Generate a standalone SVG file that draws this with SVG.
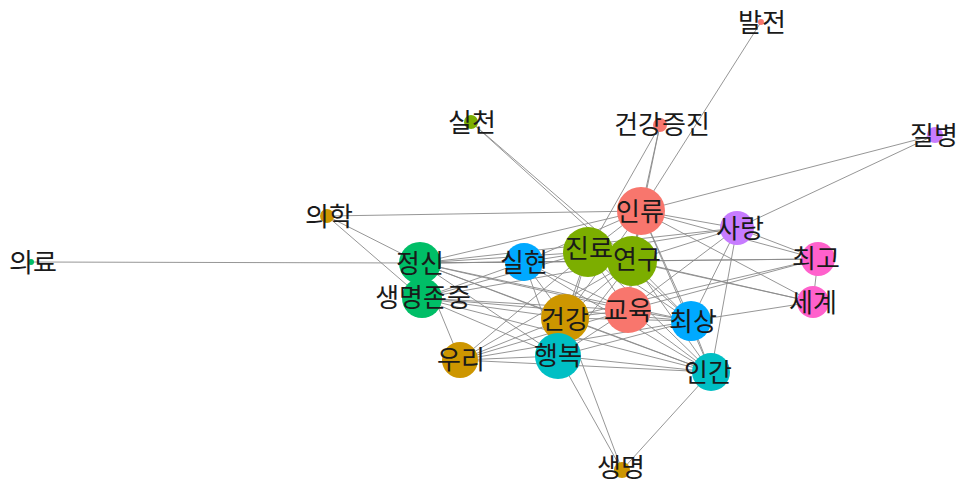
<svg xmlns="http://www.w3.org/2000/svg" width="959" height="484" viewBox="0 0 959 484">
<style>
.e{stroke:#8a8a8a;stroke-width:0.9;fill:none}
.l{font-family:"Noto Sans CJK KR","Noto Sans",sans-serif;font-size:26px;fill:#1a1a1a;text-anchor:middle}
.c1{fill:#F8766D}.c2{fill:#CD9600}.c3{fill:#7CAE00}.c4{fill:#00BE67}.c5{fill:#00BFC4}.c6{fill:#00A9FF}.c7{fill:#C77CFF}.c8{fill:#FF61CC}
</style>
<rect width="959" height="484" fill="#fff"/>
<g id="edges">
<line class="e" x1="761" y1="22" x2="641" y2="211"/>
<line class="e" x1="660" y1="125" x2="641" y2="211"/>
<line class="e" x1="660" y1="125" x2="588" y2="252"/>
<line class="e" x1="660" y1="125" x2="632" y2="261"/>
<line class="e" x1="471" y1="122" x2="632" y2="261"/>
<line class="e" x1="471" y1="122" x2="691" y2="321"/>
<line class="e" x1="935" y1="135" x2="641" y2="211"/>
<line class="e" x1="935" y1="135" x2="737" y2="228"/>
<line class="e" x1="327" y1="216" x2="641" y2="211"/>
<line class="e" x1="327" y1="216" x2="420" y2="263"/>
<line class="e" x1="327" y1="216" x2="422" y2="298"/>
<line class="e" x1="31" y1="262" x2="420" y2="263"/>
<line class="e" x1="622" y1="470" x2="558" y2="356"/>
<line class="e" x1="622" y1="470" x2="565" y2="318"/>
<line class="e" x1="622" y1="470" x2="711" y2="372"/>
<line class="e" x1="420" y1="263" x2="460" y2="360"/>
<line class="e" x1="641" y1="211" x2="588" y2="252"/>
<line class="e" x1="641" y1="211" x2="632" y2="261"/>
<line class="e" x1="641" y1="211" x2="628" y2="310"/>
<line class="e" x1="641" y1="211" x2="737" y2="228"/>
<line class="e" x1="641" y1="211" x2="818" y2="259"/>
<line class="e" x1="641" y1="211" x2="813" y2="302"/>
<line class="e" x1="641" y1="211" x2="524" y2="262"/>
<line class="e" x1="641" y1="211" x2="420" y2="263"/>
<line class="e" x1="641" y1="211" x2="565" y2="318"/>
<line class="e" x1="641" y1="211" x2="691" y2="321"/>
<line class="e" x1="641" y1="211" x2="711" y2="372"/>
<line class="e" x1="737" y1="228" x2="632" y2="261"/>
<line class="e" x1="737" y1="228" x2="588" y2="252"/>
<line class="e" x1="737" y1="228" x2="691" y2="321"/>
<line class="e" x1="737" y1="228" x2="711" y2="372"/>
<line class="e" x1="737" y1="228" x2="818" y2="259"/>
<line class="e" x1="737" y1="228" x2="420" y2="263"/>
<line class="e" x1="737" y1="228" x2="628" y2="310"/>
<line class="e" x1="818" y1="259" x2="632" y2="261"/>
<line class="e" x1="818" y1="259" x2="813" y2="302"/>
<line class="e" x1="818" y1="259" x2="565" y2="318"/>
<line class="e" x1="818" y1="259" x2="420" y2="263"/>
<line class="e" x1="818" y1="259" x2="628" y2="310"/>
<line class="e" x1="813" y1="302" x2="632" y2="261"/>
<line class="e" x1="813" y1="302" x2="691" y2="321"/>
<line class="e" x1="813" y1="302" x2="588" y2="252"/>
<line class="e" x1="588" y1="252" x2="632" y2="261"/>
<line class="e" x1="588" y1="252" x2="628" y2="310"/>
<line class="e" x1="588" y1="252" x2="524" y2="262"/>
<line class="e" x1="588" y1="252" x2="420" y2="263"/>
<line class="e" x1="588" y1="252" x2="422" y2="298"/>
<line class="e" x1="588" y1="252" x2="565" y2="318"/>
<line class="e" x1="588" y1="252" x2="558" y2="356"/>
<line class="e" x1="588" y1="252" x2="460" y2="360"/>
<line class="e" x1="588" y1="252" x2="691" y2="321"/>
<line class="e" x1="588" y1="252" x2="711" y2="372"/>
<line class="e" x1="632" y1="261" x2="628" y2="310"/>
<line class="e" x1="632" y1="261" x2="524" y2="262"/>
<line class="e" x1="632" y1="261" x2="420" y2="263"/>
<line class="e" x1="632" y1="261" x2="422" y2="298"/>
<line class="e" x1="632" y1="261" x2="565" y2="318"/>
<line class="e" x1="632" y1="261" x2="558" y2="356"/>
<line class="e" x1="632" y1="261" x2="460" y2="360"/>
<line class="e" x1="632" y1="261" x2="691" y2="321"/>
<line class="e" x1="632" y1="261" x2="711" y2="372"/>
<line class="e" x1="628" y1="310" x2="524" y2="262"/>
<line class="e" x1="628" y1="310" x2="420" y2="263"/>
<line class="e" x1="628" y1="310" x2="422" y2="298"/>
<line class="e" x1="628" y1="310" x2="565" y2="318"/>
<line class="e" x1="628" y1="310" x2="558" y2="356"/>
<line class="e" x1="628" y1="310" x2="691" y2="321"/>
<line class="e" x1="628" y1="310" x2="711" y2="372"/>
<line class="e" x1="628" y1="310" x2="460" y2="360"/>
<line class="e" x1="524" y1="262" x2="420" y2="263"/>
<line class="e" x1="524" y1="262" x2="422" y2="298"/>
<line class="e" x1="524" y1="262" x2="565" y2="318"/>
<line class="e" x1="524" y1="262" x2="558" y2="356"/>
<line class="e" x1="524" y1="262" x2="711" y2="372"/>
<line class="e" x1="420" y1="263" x2="422" y2="298"/>
<line class="e" x1="420" y1="263" x2="565" y2="318"/>
<line class="e" x1="420" y1="263" x2="558" y2="356"/>
<line class="e" x1="420" y1="263" x2="711" y2="372"/>
<line class="e" x1="420" y1="263" x2="691" y2="321"/>
<line class="e" x1="422" y1="298" x2="565" y2="318"/>
<line class="e" x1="422" y1="298" x2="558" y2="356"/>
<line class="e" x1="422" y1="298" x2="711" y2="372"/>
<line class="e" x1="422" y1="298" x2="691" y2="321"/>
<line class="e" x1="565" y1="318" x2="558" y2="356"/>
<line class="e" x1="565" y1="318" x2="460" y2="360"/>
<line class="e" x1="565" y1="318" x2="691" y2="321"/>
<line class="e" x1="565" y1="318" x2="711" y2="372"/>
<line class="e" x1="558" y1="356" x2="460" y2="360"/>
<line class="e" x1="558" y1="356" x2="711" y2="372"/>
<line class="e" x1="558" y1="356" x2="691" y2="321"/>
<line class="e" x1="460" y1="360" x2="711" y2="372"/>
<line class="e" x1="460" y1="360" x2="691" y2="321"/>
<line class="e" x1="691" y1="321" x2="711" y2="372"/>
</g>
<g id="n-balj"><circle class="c1" cx="761" cy="22" r="3"/></g>
<g id="n-gjj"><circle class="c1" cx="660" cy="125" r="7"/></g>
<g id="n-silc"><circle class="c3" cx="471" cy="122" r="7"/></g>
<g id="n-jilb"><circle class="c7" cx="935" cy="135" r="8"/></g>
<g id="n-uihak"><circle class="c2" cx="327" cy="216" r="7"/></g>
<g id="n-uiryo"><circle class="c4" cx="31" cy="262" r="3"/></g>
<g id="n-inryu"><circle class="c1" cx="641" cy="211" r="24"/></g>
<g id="n-sarang"><circle class="c7" cx="737" cy="228" r="17"/></g>
<g id="n-choego"><circle class="c8" cx="818" cy="259" r="17"/></g>
<g id="n-segye"><circle class="c8" cx="813" cy="302" r="16"/></g>
<g id="n-jinryo"><circle class="c3" cx="588" cy="252" r="25"/></g>
<g id="n-yeongu"><circle class="c3" cx="632" cy="261" r="25"/></g>
<g id="n-gyoyuk"><circle class="c1" cx="628" cy="310" r="23"/></g>
<g id="n-silhyeon"><circle class="c6" cx="524" cy="262" r="19"/></g>
<g id="n-jeongsin"><circle class="c4" cx="420" cy="263" r="21"/></g>
<g id="n-saengmyeongjonjung"><circle class="c4" cx="422" cy="298" r="20"/></g>
<g id="n-geongang"><circle class="c2" cx="565" cy="318" r="24"/></g>
<g id="n-haengbok"><circle class="c5" cx="558" cy="356" r="23"/></g>
<g id="n-uri"><circle class="c2" cx="460" cy="360" r="18"/></g>
<g id="n-choesang"><circle class="c6" cx="691" cy="321" r="20"/></g>
<g id="n-ingan"><circle class="c5" cx="711" cy="372" r="19"/></g>
<g id="n-saengmyeong"><circle class="c2" cx="622" cy="470" r="8"/></g>
<g id="labels">
<text class="l" x="762" y="32">발전</text>
<text class="l" x="662" y="134">건강증진</text>
<text class="l" x="472" y="132">실천</text>
<text class="l" x="934" y="145">질병</text>
<text class="l" x="329" y="226">의학</text>
<text class="l" x="33" y="272">의료</text>
<text class="l" x="640" y="221">인류</text>
<text class="l" x="740" y="238">사랑</text>
<text class="l" x="816" y="268">최고</text>
<text class="l" x="813" y="312">세계</text>
<text class="l" x="589" y="258">진료</text>
<text class="l" x="637" y="269">연구</text>
<text class="l" x="628" y="320">교육</text>
<text class="l" x="524" y="272">실현</text>
<text class="l" x="420" y="273">정신</text>
<text class="l" x="423" y="307">생명존중</text>
<text class="l" x="565" y="329">건강</text>
<text class="l" x="558" y="365">행복</text>
<text class="l" x="461" y="369">우리</text>
<text class="l" x="693" y="331">최상</text>
<text class="l" x="708" y="382">인간</text>
<text class="l" x="621" y="477">생명</text>
</g>
</svg>
